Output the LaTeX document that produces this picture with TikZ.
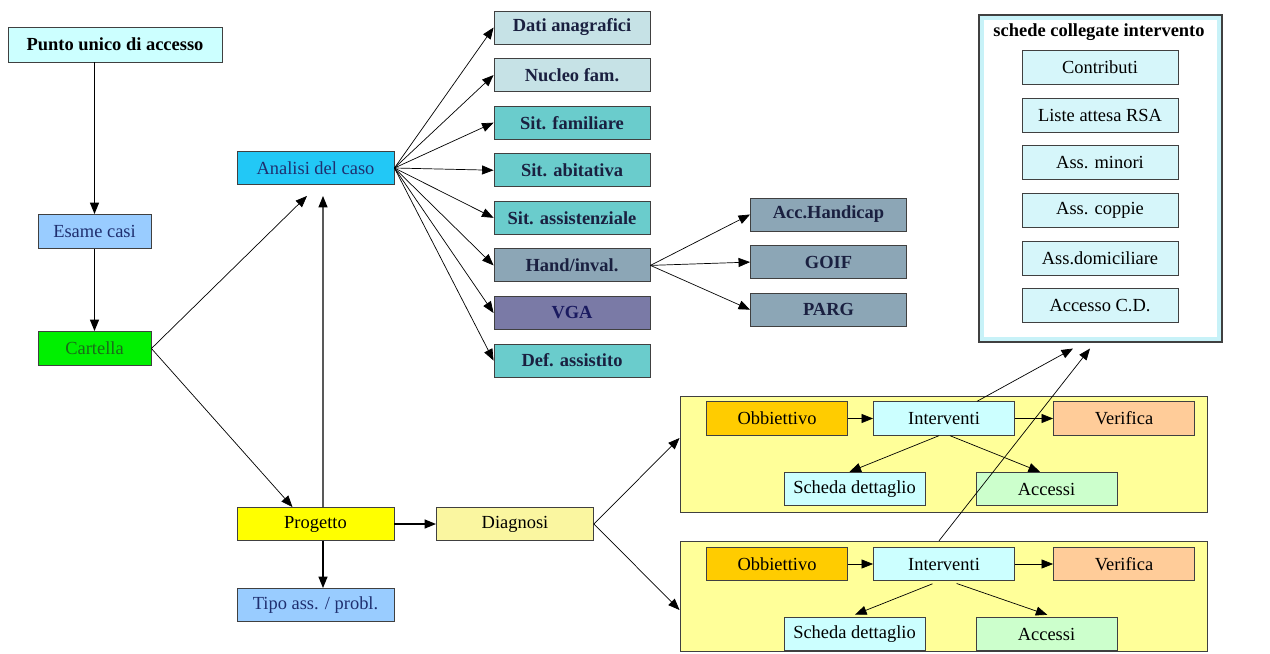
\documentclass[tikz,border=0pt]{standalone}
\usepackage{fontspec}
\setmainfont{Liberation Serif}
\usepackage{xcolor}
\usepackage{tikz}
\usetikzlibrary{arrows.meta,positioning}
\definecolor{pucyan}{HTML}{CCFFFF}
\definecolor{esblue}{HTML}{99CCFF}
\definecolor{cagreen}{HTML}{00F000}
\definecolor{ansky}{HTML}{22C8F6}
\definecolor{datgray}{HTML}{C6E2E6}
\definecolor{sitteal}{HTML}{6ACCCC}
\definecolor{handgray}{HTML}{8CA6B6}
\definecolor{vgapurple}{HTML}{7A7AA6}
\definecolor{proyellow}{HTML}{FFFF00}
\definecolor{diayellow}{HTML}{FAF6A0}
\definecolor{panyellow}{HTML}{FFFF99}
\definecolor{obborange}{HTML}{FFCC00}
\definecolor{verpeach}{HTML}{FFCC99}
\definecolor{accgreen}{HTML}{CCFFCC}
\definecolor{schband}{HTML}{C8F2F8}
\definecolor{schcyan}{HTML}{D6F6FA}
\definecolor{navytext}{HTML}{1F2F6F}
\definecolor{greentext}{HTML}{1A6A1A}
\definecolor{subtext}{HTML}{1A2040}
\definecolor{vgatext}{HTML}{1A1A60}

\begin{document}
\begin{tikzpicture}[x=0.2mm,y=-0.2mm,>={Triangle[length=2.3mm,width=1.8mm]},node distance=2.74mm,
  font=\fontsize{10.5}{12}\selectfont,
  box/.style={draw=black!75,line width=0.5pt,inner sep=0pt,minimum height=6.6mm,text=black},
  leftbox/.style={box,minimum width=22.6mm,minimum height=6.8mm},
  midbox/.style={box,minimum width=31.4mm},
  subbox/.style={box,minimum width=31.2mm,font=\fontsize{10.5}{12}\selectfont\bfseries,text=subtext},
  linkbox/.style={box,minimum width=31.2mm,minimum height=6.8mm,fill=schcyan},
  pbox/.style={box,minimum width=28.2mm,minimum height=6.7mm},
  panel/.style={draw=black!75,line width=0.5pt,fill=panyellow,minimum width=105.4mm,inner sep=0pt},
  link/.style={->,line width=0.4pt},
  heavy/.style={->,line width=0.8pt}]
\useasboundingbox (0,0) rectangle (1270,653);
% panels
\node[panel,minimum height=23.2mm](panA) at (943.5,454){};
\node[panel,minimum height=22mm](panB) at (943.5,596){};
% left column
\node[box,minimum width=42.8mm,minimum height=7mm,fill=pucyan,font=\fontsize{10.5}{12}\selectfont\bfseries](punto) at (115,44.5){Punto unico di accesso};
\node[leftbox,fill=esblue,text=navytext](esame) at (94.5,231.5){Esame casi};
\node[leftbox,fill=cagreen,text=greentext](cartella) at (94.5,348.5){Cartella};
\node[midbox,fill=ansky,text=navytext](analisi) at (315.5,168){Analisi del caso};
\node[midbox,fill=proyellow](progetto) at (315.5,524){Progetto};
\node[midbox,fill=esblue,text=navytext](tipo) at (315.5,605){Tipo ass. / probl.};
\node[midbox,fill=diayellow](diagnosi) at (515,524){Diagnosi};
% schede analisi
\node[subbox,fill=datgray](dati) at (572,27.5){Dati anagrafici};
\node[subbox,fill=datgray,below=of dati](nucleo){Nucleo fam.};
\node[subbox,fill=sitteal,below=of nucleo](sitfam){Sit. familiare};
\node[subbox,fill=sitteal,below=of sitfam](sitab){Sit. abitativa};
\node[subbox,fill=sitteal,below=of sitab](sitass){Sit. assistenziale};
\node[subbox,fill=handgray,below=of sitass](hand){Hand/inval.};
\node[subbox,fill=vgapurple,text=vgatext,below=of hand](vga){VGA};
\node[subbox,fill=sitteal,below=of vga](defass){Def. assistito};
\node[subbox,fill=handgray](acchand) at (828.5,214.5){Acc.Handicap};
\node[subbox,fill=handgray,below=of acchand](goif){GOIF};
\node[subbox,fill=handgray,below=of goif](parg){PARG};
% schede collegate
\node[draw=black!75,line width=0.6pt,fill=schband,minimum width=48.6mm,minimum height=65.4mm](schede) at (1100.5,178.5){};
\node[fill=white,minimum width=46.6mm,minimum height=63.4mm,inner sep=0pt](schedein) at (schede.center){};
\node[font=\fontsize{10.5}{12}\selectfont\bfseries](schtit) at (1099,32){schede collegate intervento};
\node[linkbox](contrib) at (1100,67.5){Contributi};
\node[linkbox,below=2.56mm of contrib](liste){Liste attesa RSA};
\node[linkbox,below=2.56mm of liste](minori){Ass. minori};
\node[linkbox,below=2.56mm of minori](coppie){Ass. coppie};
\node[linkbox,below=2.56mm of coppie](domic){Ass.domiciliare};
\node[linkbox,below=2.56mm of domic](accesso){Accesso C.D.};
% interventi
\node[pbox,fill=obborange](obbA) at (777,418.5){Obbiettivo};
\node[pbox,fill=pucyan](intA) at (944,418.5){Interventi};
\node[pbox,fill=verpeach](verA) at (1124,418.5){Verifica};
\node[pbox,fill=pucyan](schA) at (854.5,489){Scheda dettaglio};
\node[pbox,fill=accgreen](accA) at (1046.5,489){Accessi};
\node[pbox,fill=obborange](obbB) at (777,564){Obbiettivo};
\node[pbox,fill=pucyan](intB) at (944,564){Interventi};
\node[pbox,fill=verpeach](verB) at (1124,564){Verifica};
\node[pbox,fill=pucyan](schB) at (854.5,634){Scheda dettaglio};
\node[pbox,fill=accgreen](accB) at (1046.5,634){Accessi};
% connectors
\draw[heavy] (esame.north |- punto.south) -- (esame.north);
\draw[heavy] (esame) -- (cartella);
\draw[link] (cartella.east) -- ([shift={(-8.5,11)}]analisi.south);
\draw[link] (cartella.east) -- ([shift={(-23,0)}]progetto.north);
\draw[heavy] ([xshift=1.5mm]progetto.north) -- ([shift={(7.5,11)}]analisi.south);
\draw[heavy] ([xshift=1.5mm]progetto.south) -- ([xshift=1.5mm]tipo.north);
\draw[heavy] (progetto.east) -- (diagnosi.west);
\draw[link] (diagnosi.east) -- ([yshift=3.2mm]panA.west);
\draw[link] (diagnosi.east) -- ([yshift=-2.8mm]panB.west);
\foreach \n in {dati,nucleo,sitfam,sitab,sitass,hand,vga,defass}
  \draw[link] (analisi.east) -- (\n.west);
\foreach \n in {acchand,goif,parg}
  \draw[link] (hand.east) -- (\n.west);
\draw[link] (obbA) -- (intA);
\draw[link] (intA) -- (verA);
\draw[link] ([xshift=-1mm]intA.south) -- ([xshift=-1mm]schA.north);
\draw[link] ([xshift=1.2mm]intA.south) -- ([xshift=-1.3mm]accA.north);
\draw[link] (obbB) -- (intB);
\draw[link] (intB) -- (verB);
\draw[link,shorten <=1.4mm,shorten >=1.2mm] ([xshift=-1mm]intB.south) -- ([xshift=-1mm]schB.north);
\draw[link,shorten <=1.4mm,shorten >=1.2mm] ([xshift=1.2mm]intB.south) -- ([xshift=1.3mm]accB.north);
\draw[link] ([xshift=6.6mm]intA.north) -- ([shift={(-27.5,6)}]schede.south);
\draw[link] ([shift={(-5,-6)}]intB.north) -- ([shift={(-10.5,6)}]schede.south);
\end{tikzpicture}
\end{document}
